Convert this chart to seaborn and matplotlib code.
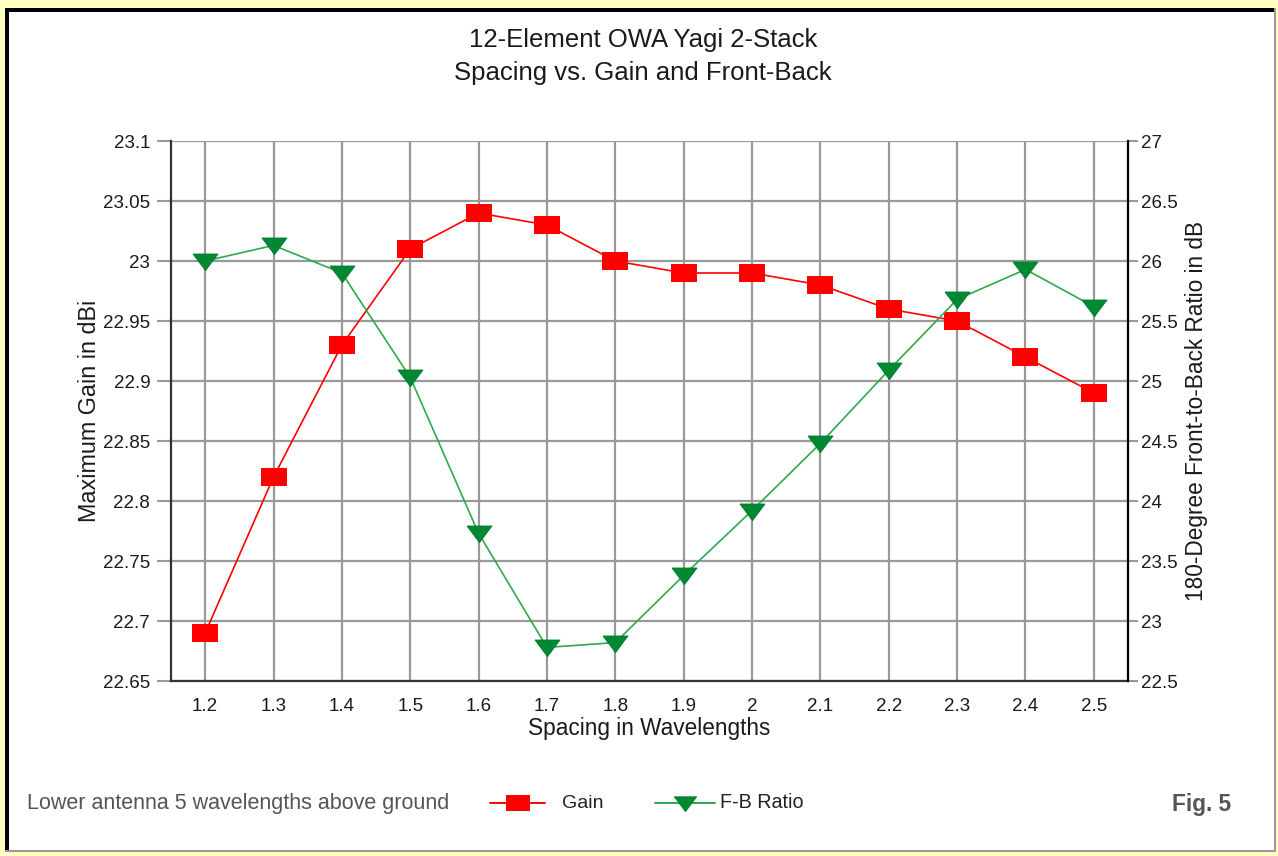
import matplotlib
matplotlib.use("Agg")
import matplotlib.pyplot as plt
from matplotlib.patches import Rectangle
from matplotlib.lines import Line2D
import seaborn as sns
import pandas as pd

# Stack spacing (wavelengths) and modelled performance
spacing = [1.2, 1.3, 1.4, 1.5, 1.6, 1.7, 1.8, 1.9, 2.0, 2.1, 2.2, 2.3, 2.4, 2.5]
gain_dbi = [22.69, 22.82, 22.93, 23.01, 23.04, 23.03, 23.00, 22.99, 22.99, 22.98, 22.96, 22.95, 22.92, 22.89]
fb_ratio_db = [26.00, 26.13, 25.90, 25.03, 23.73, 22.78, 22.82, 23.38, 23.92, 24.48, 25.09, 25.68, 25.93, 25.62]

x_ticks = [1.2, 1.3, 1.4, 1.5, 1.6, 1.7, 1.8, 1.9, 2.0, 2.1, 2.2, 2.3, 2.4, 2.5]
x_tick_labels = ["1.2", "1.3", "1.4", "1.5", "1.6", "1.7", "1.8", "1.9", "2", "2.1", "2.2", "2.3", "2.4", "2.5"]
gain_ticks = [22.65, 22.7, 22.75, 22.8, 22.85, 22.9, 22.95, 23.0, 23.05, 23.1]
gain_tick_labels = ["22.65", "22.7", "22.75", "22.8", "22.85", "22.9", "22.95", "23", "23.05", "23.1"]
fb_ticks = [22.5, 23, 23.5, 24, 24.5, 25, 25.5, 26, 26.5, 27]
fb_tick_labels = ["22.5", "23", "23.5", "24", "24.5", "25", "25.5", "26", "26.5", "27"]

series_names = ["Gain", "F-B Ratio"]

df = pd.DataFrame({"spacing": spacing, "gain": gain_dbi, "fb": fb_ratio_db})

sns.set_style("white")
plt.rcParams["font.family"] = ["Liberation Sans", "DejaVu Sans"]

W, H = 1278, 856
fig = plt.figure(figsize=(W / 100, H / 100), dpi=100, facecolor="#FFFFC0")


def px_rect(x0, y0, x1, y1, **kw):
    fig.patches.append(Rectangle((x0 / W, 1 - y1 / H), (x1 - x0) / W, (y1 - y0) / H,
                                 transform=fig.transFigure, figure=fig, **kw))


def fx(px):
    return px / W


def fy(py):
    return 1 - py / H


# sunken panel: dark top/left edge, light bottom/right edge
px_rect(5, 8, 1276, 852, facecolor="#9a9a9a", edgecolor="none", zorder=-3)
px_rect(5, 8, 1274, 850, facecolor="black", edgecolor="none", zorder=-2)
px_rect(9, 12, 1274, 850, facecolor="white", edgecolor="none", zorder=-1)

AX_L, AX_R, AX_T, AX_B = 171, 1128, 141, 681
ax = fig.add_axes([fx(AX_L), fy(AX_B), (AX_R - AX_L) / W, (AX_B - AX_T) / H])
ax.set_facecolor("none")
ax2 = ax.twinx()

RED = "#FF0000"
GREEN_LINE = "#2DAA4C"
GREEN_FACE = "#008833"
GREEN_EDGE = "#007a2c"
rect_marker = [(-1.4, -1), (1.4, -1), (1.4, 1), (-1.4, 1), (-1.4, -1)]
tri_marker = [(-1.5, 0.9), (1.5, 0.9), (0, -1.1), (-1.5, 0.9)]

sns.lineplot(data=df, x="spacing", y="gain", ax=ax, color=RED, linewidth=1.2,
             marker=rect_marker, markersize=19, markeredgewidth=0,
             markerfacecolor=RED, zorder=5)
sns.lineplot(data=df, x="spacing", y="fb", ax=ax2, color=GREEN_LINE, linewidth=1.2,
             marker=tri_marker, markersize=18, markeredgewidth=0.6,
             markerfacecolor=GREEN_FACE, markeredgecolor=GREEN_EDGE, zorder=5)

ax.set_xlim(1.15, 2.55)
ax.set_ylim(22.65, 23.1)
ax2.set_ylim(22.5, 27)

ax.set_xticks(x_ticks)
ax.set_xticklabels(x_tick_labels)
ax.set_yticks(gain_ticks)
ax.set_yticklabels(gain_tick_labels)
ax2.set_yticks(fb_ticks)
ax2.set_yticklabels(fb_tick_labels)

ax.grid(True, color="#999999", linewidth=1.6)
ax.set_axisbelow(True)

TXT = "#1a1a1a"
common = dict(direction="out", width=1.5, color="#999999", labelsize=13.5, labelcolor=TXT)
ax.tick_params(axis="y", length=10, pad=5, **common)
ax.tick_params(axis="x", length=9, pad=3, **common)
ax2.tick_params(axis="y", length=7, pad=2, **common)

for a in (ax, ax2):
    a.spines["top"].set_visible(False)
for s in ("left", "bottom"):
    ax.spines[s].set_color("#333333")
    ax.spines[s].set_linewidth(1.6)
ax2.spines["right"].set_color("black")
ax2.spines["right"].set_linewidth(1.6)
ax2.spines["left"].set_visible(False)
ax2.spines["bottom"].set_visible(False)
ax.spines["right"].set_visible(False)

ax_w = AX_R - AX_L
ax_h = AX_B - AX_T
ax.set_xlabel("Spacing in Wavelengths", fontsize=16.3, color=TXT, va="center")
ax.xaxis.set_label_coords(0.5, -(728 - AX_B) / ax_h)
ax.set_ylabel("Maximum Gain in dBi", fontsize=16.8, color=TXT, va="center")
ax.yaxis.set_label_coords((90 - AX_L) / ax_w, 0.5)
ax2.set_ylabel("180-Degree Front-to-Back Ratio in dB", fontsize=16.3, color=TXT, va="center")
ax2.yaxis.set_label_coords((1196 - AX_L) / ax_w, 0.5)

fig.text(fx(643), fy(40), "12-Element OWA Yagi 2-Stack", ha="center", va="center",
         fontsize=18.5, color=TXT)
fig.text(fx(643), fy(73), "Spacing vs. Gain and Front-Back", ha="center", va="center",
         fontsize=18.5, color=TXT)

# footer: note, hand-placed legend and figure number
fig.text(fx(27), fy(803), "Lower antenna 5 wavelengths above ground", ha="left", va="center",
         fontsize=15.5, color="#555555")

legend_y = fy(803)
fig.add_artist(Line2D([fx(490), fx(545)], [legend_y, legend_y], transform=fig.transFigure,
                      color=RED, linewidth=1.4))
fig.add_artist(Line2D([fx(518)], [legend_y], transform=fig.transFigure, linestyle="none",
                      marker=rect_marker, markersize=17, markeredgewidth=0, markerfacecolor=RED))
fig.text(fx(562), legend_y, series_names[0], ha="left", va="center", fontsize=14, color="#222222")

fig.add_artist(Line2D([fx(655), fx(715)], [legend_y, legend_y], transform=fig.transFigure,
                      color=GREEN_LINE, linewidth=1.4))
fig.add_artist(Line2D([fx(685)], [legend_y], transform=fig.transFigure, linestyle="none",
                      marker=tri_marker, markersize=16, markeredgewidth=0.6,
                      markerfacecolor=GREEN_FACE, markeredgecolor=GREEN_EDGE))
fig.text(fx(720), legend_y, series_names[1], ha="left", va="center", fontsize=14.2, color="#222222")

fig.text(fx(1202), fy(805), "Fig. 5", ha="center", va="center",
         fontsize=16.3, fontweight="bold", color="#555555")

fig.savefig("out.png", dpi=100, facecolor=fig.get_facecolor())
